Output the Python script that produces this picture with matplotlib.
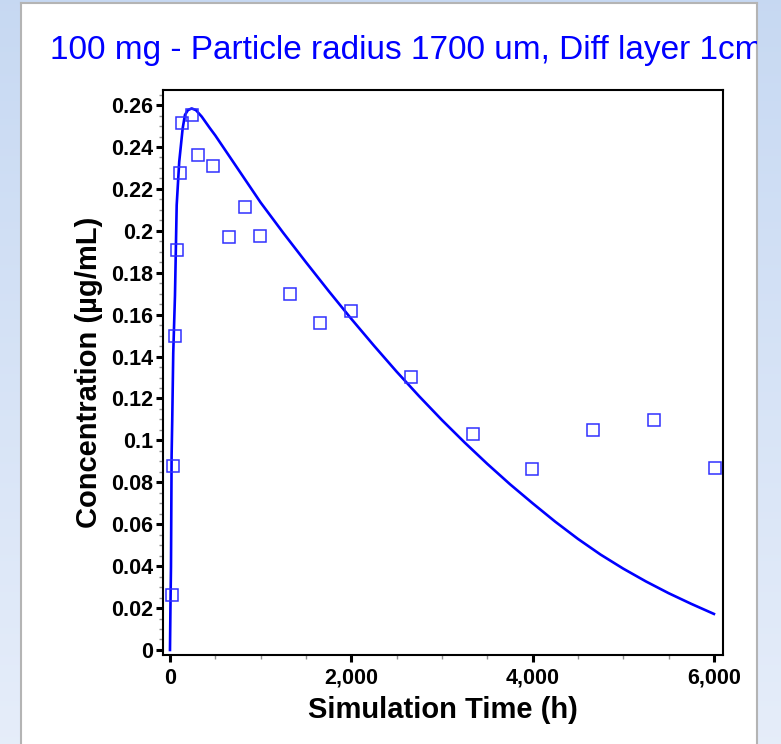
import numpy as np
import matplotlib
matplotlib.use("Agg")
import matplotlib.pyplot as plt
from matplotlib.ticker import MultipleLocator, FuncFormatter

# ---------- data ----------
sim_time = [0, 5, 11, 18, 25, 36, 55, 74, 102, 129, 140, 165, 198, 239, 286,
            350, 440, 500, 750, 1000, 1250, 1500, 1750, 2000, 2250, 2500,
            2750, 3000, 3250, 3500, 3750, 4000, 4250, 4500, 4750, 5000,
            5250, 5500, 5750, 6000]
sim_conc = [0, 0.020, 0.0396, 0.093, 0.110, 0.1417, 0.169, 0.2123, 0.233,
            0.2443, 0.2489, 0.2553, 0.2576, 0.2584, 0.2576, 0.2545, 0.2490,
            0.2455, 0.2295, 0.2135, 0.1990, 0.1850, 0.1713, 0.1580, 0.1452,
            0.1328, 0.1210, 0.1097, 0.0990, 0.0888, 0.0791, 0.0700, 0.0612,
            0.0530, 0.0455, 0.0388, 0.0327, 0.0271, 0.0220, 0.0172]

obs_time = [22, 36, 55, 80, 110, 136, 246, 312, 477, 650, 826, 991, 1322,
            1660, 1993, 2662, 3341, 3991, 4670, 5334, 6013]
obs_conc = [0.0261, 0.0878, 0.1498, 0.1907, 0.2274, 0.2516, 0.2553, 0.2362,
            0.2311, 0.1969, 0.2115, 0.1975, 0.1698, 0.1559, 0.1619, 0.1304,
            0.1031, 0.0862, 0.1050, 0.1097, 0.0870]

title = "100 mg - Particle radius 1700 um, Diff layer 1cm"

W, H = 781, 744
fig = plt.figure(figsize=(W / 100, H / 100), dpi=100)
plt.rcParams['font.family'] = ['Liberation Sans', 'DejaVu Sans']

# ---------- slide background ----------
bg = fig.add_axes([0, 0, 1, 1])
grad = np.linspace(0, 1, 256).reshape(-1, 1)
top_c = np.array([0.78, 0.85, 0.95])
bot_c = np.array([0.90, 0.93, 0.98])
img = top_c + (bot_c - top_c) * grad[:, :, None]
bg.imshow(np.repeat(img, 2, axis=1), aspect='auto', extent=[0, 1, 0, 1])
bg.set_axis_off()

# white panel with grey border
panel = fig.add_axes([21 / W, -0.01, (757 - 21) / W, (744 - 3) / H + 0.01])
panel.set_facecolor('white')
panel.set_xticks([])
panel.set_yticks([])
for s in panel.spines.values():
    s.set_color('#b4b4b4')
    s.set_linewidth(1.5)
panel.spines['bottom'].set_visible(False)
panel.set_xlim(0, 1)
panel.set_ylim(0, 1)
# title, clipped at the panel edge like in the screenshot
panel.text((50 - 21) / (757 - 21), 1 - (50 - 3) / (744 - 3), title,
           transform=panel.transAxes, fontsize=24, color='#0000ff',
           ha='left', va='center', clip_on=True)

# ---------- main chart ----------
ax = fig.add_axes([163 / W, (H - 655) / H, 560 / W, 565 / H])
ax.plot(sim_time, sim_conc, color='#0000ff', lw=1.9)
ax.plot(obs_time, obs_conc, ls='none', marker='s', ms=8.6, mfc='none',
        mec='#3030ff', mew=1.1)

ax.set_xlim(-77, 6100)
ax.set_ylim(-0.0024, 0.2672)
ax.xaxis.set_major_locator(MultipleLocator(2000))
ax.xaxis.set_minor_locator(MultipleLocator(500))
ax.yaxis.set_major_locator(MultipleLocator(0.02))
ax.yaxis.set_minor_locator(MultipleLocator(0.005))
ax.xaxis.set_major_formatter(FuncFormatter(lambda v, p: f"{int(round(v)):,}"))
ax.yaxis.set_major_formatter(FuncFormatter(lambda v, p: f"{round(v, 2):g}"))

ax.tick_params(which='major', direction='out', length=5, width=2.2,
               color='black', labelsize=15.5, pad=2)
ax.tick_params(which='minor', direction='out', length=3, width=1,
               color='#909090')
for lab in ax.get_xticklabels() + ax.get_yticklabels():
    lab.set_fontweight('bold')
ax.tick_params(axis='x', pad=4)

for s in ax.spines.values():
    s.set_linewidth(1.5)
    s.set_color('black')

ax.set_xlabel("Simulation Time (h)", fontsize=21, fontweight='bold')
ax.set_ylabel("Concentration (µg/mL)", fontsize=21, fontweight='bold')
ax.xaxis.set_label_coords(0.5, -0.072)
ax.yaxis.set_label_coords(-0.107, 0.5)

fig.savefig("out.png", dpi=100)
